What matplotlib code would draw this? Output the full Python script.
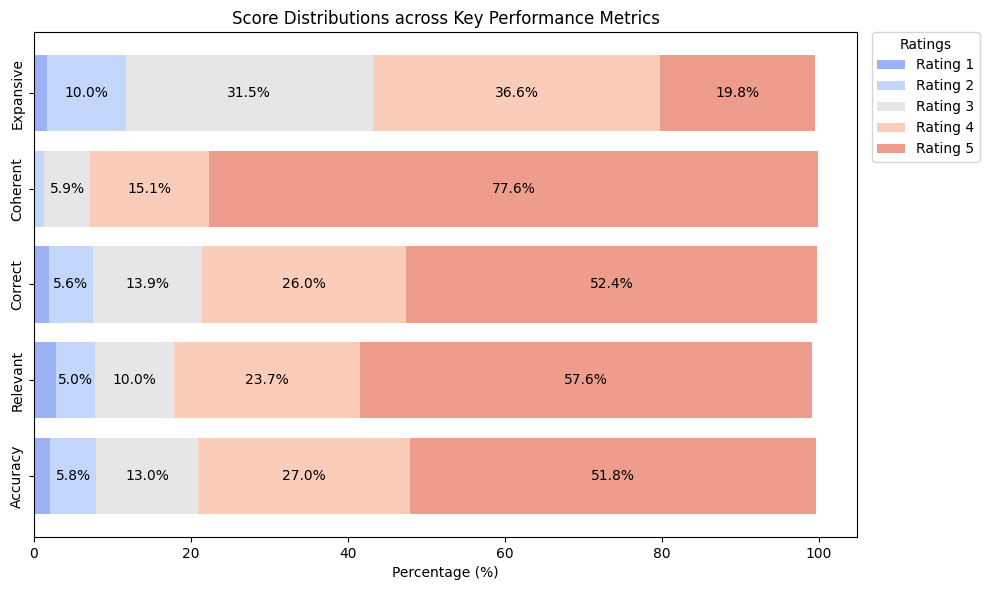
import matplotlib.pyplot as plt
import seaborn as sns
import numpy as np

metrics = ['Accuracy', 'Relevant', 'Correct', 'Coherent', 'Expansive']
ratings = ['Rating 1', 'Rating 2', 'Rating 3', 'Rating 4', 'Rating 5']

rating_1 = [2.1, 2.8, 1.9, 0.0, 1.7]
rating_2 = [5.8, 5.0, 5.6, 1.3, 10.0]
rating_3 = [13.0, 10.0, 13.9, 5.9, 31.5]
rating_4 = [27.0, 23.7, 26.0, 15.1, 36.6]
rating_5 = [51.8, 57.6, 52.4, 77.6, 19.8]

series = [rating_1, rating_2, rating_3, rating_4, rating_5]
colors = sns.color_palette('coolwarm', 5)

fig, ax = plt.subplots(figsize = (9.9, 5.9), dpi = 100)
fig.subplots_adjust(left = 0.0343, right = 0.8657, top = 0.9458, bottom = 0.0898)

left = np.zeros(len(metrics))
for name, vals, c in zip(ratings, series, colors):
    vals = np.array(vals)
    bars = ax.barh(metrics, vals, left = left, color = c, alpha = 0.7, height = 0.8, label = name)
    for b, v in zip(bars, vals):
        if v >= 5:
            ax.text(b.get_x() + b.get_width() / 2, b.get_y() + b.get_height() / 2,
                    f'{v:.1f}%', ha = 'center', va = 'center', fontsize = 10)
    left += vals

ax.set_title('Score Distributions across Key Performance Metrics', fontsize = 12)
ax.set_xlabel('Percentage (%)')
ax.set_yticks(range(len(metrics)))
ax.set_yticklabels(metrics, rotation = 90, va = 'center')
ax.legend(title = 'Ratings', bbox_to_anchor = (1.018, 1), loc = 'upper left', borderaxespad = 0)

plt.savefig('out.png', dpi = 100)
plt.close()
